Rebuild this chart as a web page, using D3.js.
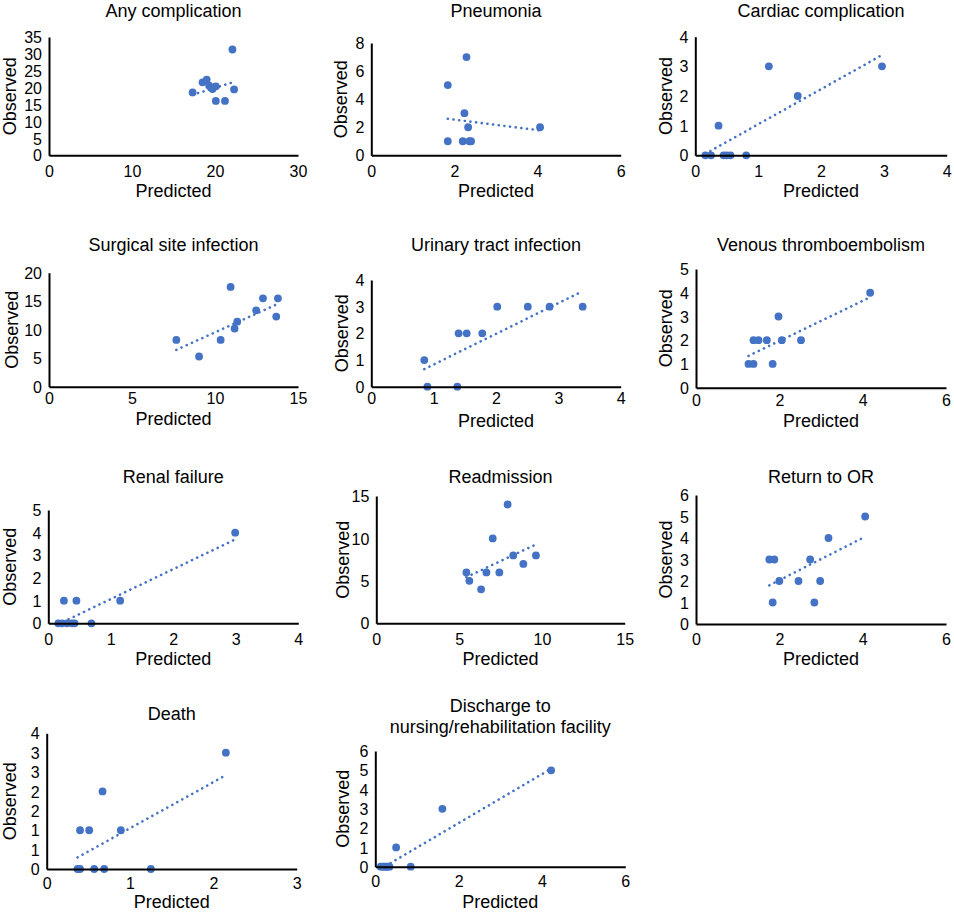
<!DOCTYPE html>
<html><head><meta charset="utf-8">
<script src="https://cdn.jsdelivr.net/npm/d3@7"></script>
<style>
html,body{margin:0;padding:0;background:#fff;}
text{font-family:"Liberation Sans",Arial,Helvetica,sans-serif;fill:#000;}
</style></head>
<body><svg id="chart" width="954" height="912"></svg>
<script>
// ---------- DATA ----------
const titles = ["Any complication","Pneumonia","Cardiac complication",
  "Surgical site infection","Urinary tract infection","Venous thromboembolism",
  "Renal failure","Readmission","Return to OR","Death",
  ["Discharge to","nursing/rehabilitation facility"]];

const predAny = [17.3, 18.5, 19.0, 19.3, 19.7, 20.1, 20.1, 21.2, 22.1, 22.3];
const obsAny  = [18.6, 21.6, 22.4, 20.6, 19.6, 20.4, 16.1, 16.1, 31.3, 19.5];
const trendAny = [[17.3, 17.9], [22.3, 21.7]];

const predPneu = [1.84, 1.84, 2.20, 2.24, 2.29, 2.33, 2.36, 2.40, 4.06];
const obsPneu  = [5, 1, 1, 3, 7, 2, 1, 1, 2];
const trendPneu = [[1.84, 2.6], [4.06, 1.77]];

const predCard = [0.16, 0.25, 0.37, 0.45, 0.50, 0.56, 0.81, 1.17, 1.63, 2.97];
const obsCard  = [0, 0, 1, 0, 0, 0, 0, 3, 2, 3];
const trendCard = [[0.16, 0.05], [2.97, 3.38]];

const predSSI = [7.67, 9.04, 10.34, 10.94, 11.18, 11.34, 12.48, 12.89, 13.69, 13.79];
const obsSSI  = [8.2, 5.3, 8.2, 17.5, 10.2, 11.4, 13.4, 15.5, 12.3, 15.5];
const trendSSI = [[7.67, 6.46], [13.79, 14.53]];

const predUTI = [0.85, 0.90, 1.38, 1.40, 1.53, 1.78, 2.02, 2.51, 2.86, 3.39];
const obsUTI  = [1, 0, 0, 2, 2, 2, 3, 3, 3, 3];
const trendUTI = [[0.85, 0.66], [3.39, 3.58]];

const predVTE = [1.26, 1.38, 1.38, 1.50, 1.70, 1.84, 1.98, 2.06, 2.52, 4.18];
const obsVTE  = [1, 1, 2, 2, 2, 1, 3, 2, 2, 4];
const trendVTE = [[1.26, 1.34], [4.18, 3.81]];

const predRenal = [0.16, 0.22, 0.25, 0.30, 0.38, 0.42, 0.45, 0.69, 1.15, 2.99];
const obsRenal  = [0, 0, 1, 0, 0, 0, 1, 0, 1, 4];
const trendRenal = [[0.16, -0.04], [2.99, 3.70]];

const predReadm = [5.44, 5.62, 6.33, 6.65, 7.03, 7.43, 7.93, 8.27, 8.88, 9.64];
const obsReadm  = [6, 5, 4, 6, 10, 6, 14, 8, 7, 8];
const trendReadm = [[5.44, 5.44], [9.64, 9.29]];

const predOR = [1.76, 1.84, 1.88, 2.00, 2.46, 2.74, 2.84, 2.98, 3.18, 4.06];
const obsOR  = [3, 1, 3, 2, 2, 3, 1, 2, 4, 5];
const trendOR = [[1.76, 1.8], [4.06, 4.06]];

const predDeath = [0.37, 0.40, 0.40, 0.51, 0.57, 0.67, 0.69, 0.89, 1.25, 2.15];
const obsDeath  = [0, 0, 1, 1, 0, 2, 0, 1, 0, 3];
const trendDeath = [[0.37, 0.30], [2.15, 2.42]];

const predDisch = [0.13, 0.18, 0.22, 0.26, 0.30, 0.34, 0.50, 0.85, 1.61, 4.22];
const obsDisch  = [0, 0, 0, 0, 0, 0, 1, 0, 3, 5];
const trendDisch = [[0.13, -0.11], [4.22, 5.08]];

const predicted = [predAny, predPneu, predCard, predSSI, predUTI, predVTE, predRenal, predReadm, predOR, predDeath, predDisch];
const observed  = [obsAny, obsPneu, obsCard, obsSSI, obsUTI, obsVTE, obsRenal, obsReadm, obsOR, obsDeath, obsDisch];
const trends    = [trendAny, trendPneu, trendCard, trendSSI, trendUTI, trendVTE, trendRenal, trendReadm, trendOR, trendDeath, trendDisch];

const xMax  = [30, 6, 4, 15, 4, 6, 4, 15, 6, 3, 6];
const xStep = [10, 2, 1, 5, 1, 2, 1, 5, 2, 1, 2];
const yMax  = [35, 8, 4, 20, 4, 5, 5, 15, 6, 3.5, 6];
const yStep = [5, 2, 1, 5, 1, 1, 1, 5, 1, 0.5, 1];
const xLabel = "Predicted", yLabel = "Observed";

// ---------- LAYOUT ----------
const layout = [
  {x0:49,   x1:298,   y0:155.3, y1:37,    tb:[17.3],  tk:16.3, lb:196.7, ox:9.5},
  {x0:371.3,x1:620.7, y0:155.3, y1:43,    tb:[17.3],  tk:16.3, lb:196.7, ox:340.7},
  {x0:695.3,x1:946.7, y0:155.3, y1:36.7,  tb:[17.3],  tk:16.3, lb:196.7, ox:665.3},
  {x0:49,   x1:298,   y0:386.7, y1:272.7, tb:[251],   tk:11.7, lb:425,   ox:11.7},
  {x0:371.3,x1:620.7, y0:386.7, y1:280,   tb:[251],   tk:11.7, lb:426.7, ox:342},
  {x0:696,  x1:946,   y0:387.7, y1:269,   tb:[251],   tk:12.3, lb:426.7, ox:665.3},
  {x0:48.3, x1:298.3, y0:623.3, y1:510,   tb:[483.3], tk:15.7, lb:665,   ox:10},
  {x0:376.3,x1:624.7, y0:623.3, y1:496,   tb:[483.3], tk:15.7, lb:665,   ox:343},
  {x0:696,  x1:946,   y0:624,   y1:495,   tb:[483.3], tk:15,   lb:665,   ox:666},
  {x0:46.7, x1:296.7, y0:869,   y1:733.3, tb:[720],   tk:14.3, lb:908.3, ox:10},
  {x0:375.3,x1:625.3, y0:866.7, y1:751,   tb:[711.5,732.5], tk:14.3, lb:907.7, ox:343}
];
const BLUE = "#4472C4";

const svg = d3.select("#chart");

layout.forEach((L, i) => {
  const g = svg.append("g");
  const x = d3.scaleLinear().domain([0, xMax[i]]).range([L.x0, L.x1]);
  const y = d3.scaleLinear().domain([0, yMax[i]]).range([L.y0, L.y1]);

  const xt = d3.range(0, xMax[i] + xStep[i] / 2, xStep[i]);
  const yt = d3.range(0, yMax[i] + yStep[i] / 2, yStep[i]);

  // clip
  const cid = "clip" + i;
  svg.append("clipPath").attr("id", cid).append("rect")
    .attr("x", L.x0).attr("y", L.y1).attr("width", L.x1 - L.x0).attr("height", L.y0 - L.y1);

  // points
  g.append("g").selectAll("circle").data(predicted[i].map((p, k) => [p, observed[i][k]]))
    .join("circle")
    .attr("cx", d => x(d[0])).attr("cy", d => y(d[1])).attr("r", 3.9)
    .attr("fill", BLUE);

  // trend line
  g.append("line")
    .attr("clip-path", `url(#${cid})`)
    .attr("x1", x(trends[i][0][0])).attr("y1", y(trends[i][0][1]))
    .attr("x2", x(trends[i][1][0])).attr("y2", y(trends[i][1][1]))
    .attr("stroke", BLUE).attr("stroke-width", 2.6)
    .attr("stroke-linecap", "round").attr("stroke-dasharray", "0.1,5.6");

  // x axis
  const gx = g.append("g").attr("transform", `translate(0,${L.y0})`)
    .call(d3.axisBottom(x).tickValues(xt).tickSize(0).tickSizeOuter(0).tickFormat(d3.format("d")));
  gx.select(".domain").attr("stroke", "#000").attr("stroke-width", 2);
  gx.selectAll("text").attr("y", L.tk).attr("dy", "0.35em")
    .style("font-size", "16px").style("font-family", null);

  // y axis
  const fmt = yStep[i] < 1 ? (v => String(Math.round(v))) : d3.format("d");
  const gy = g.append("g").attr("transform", `translate(${L.x0},0)`)
    .call(d3.axisLeft(y).tickValues(yt).tickSize(0).tickSizeOuter(0).tickFormat(fmt));
  gy.select(".domain").attr("stroke", "#000").attr("stroke-width", 2);
  gy.selectAll("text").attr("x", -7).attr("dy", "0.35em")
    .style("font-size", "16px").style("font-family", null);

  // title
  const t = Array.isArray(titles[i]) ? titles[i] : [titles[i]];
  t.forEach((line, k) => {
    g.append("text").attr("x", (L.x0 + L.x1) / 2).attr("y", L.tb[k])
      .attr("text-anchor", "middle").style("font-size", "18px").text(line);
  });

  // axis labels
  g.append("text").attr("x", (L.x0 + L.x1) / 2).attr("y", L.lb)
    .attr("text-anchor", "middle").style("font-size", "18px").text(xLabel);
  g.append("text").attr("transform", `translate(${L.ox},${(L.y0 + L.y1) / 2}) rotate(-90)`)
    .attr("dy", "0.35em").attr("text-anchor", "middle").style("font-size", "18px").text(yLabel);
});
</script></body></html>
